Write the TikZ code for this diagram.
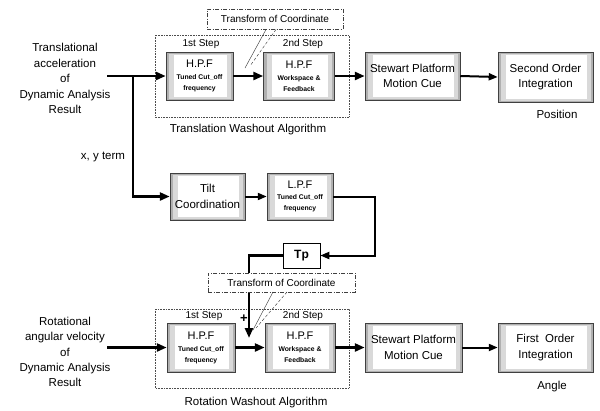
\documentclass[tikz,border=0pt]{standalone}
\usepackage{fontspec}
\setmainfont{Liberation Sans}
\usetikzlibrary{arrows.meta}

\newcommand\lblfont{\fontsize{11.5}{15.5}\selectfont}
\newcommand\stepfont{\fontsize{10}{12}\selectfont}
\newcommand\filtfont{\fontsize{11}{12}\selectfont\mdseries}
\newcommand\tinybold{\fontsize{6.8}{11}\selectfont\bfseries}

\tikzset{
  blockbox/.style={draw=gray!50!black, line width=0.5pt, fill=gray!62,
    align=center, inner sep=0pt, font=\lblfont,
    path picture={
      \fill[gray!30] ([shift={(3pt,-1.5pt)}]path picture bounding box.north west)
        rectangle ([shift={(-2.5pt,1.5pt)}]path picture bounding box.south east);
      \fill[white] ([shift={(8pt,-3pt)}]path picture bounding box.north west)
        rectangle ([shift={(-6.5pt,3pt)}]path picture bounding box.south east);
    }},
  filterbox/.style={blockbox, font=\tinybold},
  plainbox/.style={draw=black, line width=0.6pt, fill=white, inner sep=0pt},
  notebox/.style={draw=gray!50!black, dash pattern=on 4pt off 1.5pt on 1pt off 1.5pt,
    line width=0.5pt, fill=white, inner sep=0pt, font=\fontsize{10}{12}\selectfont},
  groupbox/.style={draw=gray!60!black, densely dotted, line width=0.6pt},
  thickarrow/.style={line width=2.8pt, -{Triangle[length=10pt,width=8pt]}},
  midarrow/.style={line width=2pt, -{Triangle[length=9pt,width=7pt]}},
  calloutline/.style={draw=gray!50!black, line width=0.45pt},
}

\begin{document}
\begin{tikzpicture}[x=1pt,y=-1pt]
\useasboundingbox (0,0) rectangle (600,410);

% ---------- translation channel ----------
\node[align=center, font=\lblfont] (tin) at (65,78.5)
  {Translational\\acceleration\\of\\Dynamic Analysis\\Result};

\draw[groupbox] (155,35) rectangle (349,117);
\node[font=\stepfont] (s1a) at (201,44) {1st Step};
\node[font=\stepfont] (s2a) at (303,44) {2nd Step};
\node[font=\lblfont] (twa) at (248,130) {Translation Washout Algorithm};

\node[filterbox, minimum width=67pt, minimum height=48pt] (hpfA) at (199.5,76)
  {\filtfont H.P.F\\[1pt]Tuned Cut\_off\\frequency};
\node[filterbox, minimum width=71pt, minimum height=48pt] (hpfB) at (299,76)
  {\filtfont H.P.F\\[1pt]Workspace \&\\Feedback};
\node[blockbox, minimum width=95pt, minimum height=48pt] (stwA) at (412.5,76)
  {Stewart Platform\\Motion Cue};
\node[blockbox, minimum width=95pt, minimum height=50pt] (intA) at (545.5,77)
  {Second Order\\Integration};
\node[font=\lblfont] (pos) at (557,114) {Position};

\coordinate (inA) at (107,76);
\coordinate (br) at (133,76);
\draw[thickarrow] (inA) -- (hpfA.west);
\draw[thickarrow] (hpfA.east) -- (hpfB.west);
\draw[thickarrow] (hpfB.east) -- (stwA.west);
\draw[midarrow] (stwA.east) -- (intA.west);

\node[notebox, minimum width=136pt, minimum height=20pt] (trA) at (275,19)
  {Transform of Coordinate};
\coordinate (cA1) at (266,29.5);
\coordinate (cA2) at (276,29.5);
\coordinate (tA1) at (245,68);
\coordinate (tA2) at (250,66);
\draw[calloutline] (cA1) -- (tA1);
\draw[calloutline, densely dashed] (cA2) -- (tA2);

% ---------- tilt coordination branch ----------
\node[font=\lblfont] (xy) at (103,157) {x, y term};
\node[blockbox, minimum width=75pt, minimum height=47pt] (tilt) at (207.5,196.5)
  {Tilt\\Coordination};
\node[filterbox, minimum width=66pt, minimum height=47pt] (lpf) at (300,196.5)
  {\filtfont L.P.F\\[0pt]Tuned Cut\_off\\frequency};
\node[plainbox, minimum width=37pt, minimum height=25pt,
  font=\fontsize{12}{14}\selectfont\bfseries] (tp) at (301.5,255.5) {Tp};

\draw[thickarrow] (br) |- (tilt.west);
\draw[midarrow] (tilt.east) -- (lpf.west);
\coordinate (turn) at (375,255.5);
\draw[line width=2pt, -{Triangle[length=9pt,width=7pt]}] (lpf.east) -| (turn) -- (tp.east);

% ---------- rotation channel ----------
\node[align=center, font=\fontsize{11.5}{15.2}\selectfont] (rin) at (65,352)
  {Rotational\\angular velocity\\of\\Dynamic Analysis\\Result};

\draw[groupbox] (155,309) rectangle (349,388);
\node[font=\stepfont] (s1b) at (204,316) {1st Step};
\node[font=\stepfont] (s2b) at (303,316) {2nd Step};
\node[font=\lblfont] (rwa) at (256,403) {Rotation Washout Algorithm};

\node[filterbox, minimum width=68pt, minimum height=49pt] (hpfC) at (201,347.5)
  {\filtfont H.P.F\\[1pt]Tuned Cut\_off\\frequency};
\node[filterbox, minimum width=70pt, minimum height=49pt] (hpfD) at (300,347.5)
  {\filtfont H.P.F\\[1pt]Workspace \&\\Feedback};
\node[blockbox, minimum width=97pt, minimum height=49pt] (stwB) at (413.5,347.5)
  {Stewart Platform\\Motion Cue};
\node[blockbox, minimum width=95pt, minimum height=49pt] (intB) at (545.5,347.5)
  {First\ \ Order\\Integration};
\node[font=\lblfont] (ang) at (552,387) {Angle};

\coordinate (inB) at (107,347.5);
\draw[thickarrow] (inB) -- (hpfC.west);
\draw[thickarrow] (hpfC.east) -- (hpfD.west);
\draw[thickarrow] (hpfD.east) -- (stwB.west);
\draw[midarrow] (stwB.east) -- (intB.west);

% feedback of the tilt term into the rotation channel
\coordinate (sum) at (249,338);
\draw[line width=2.6pt, -{Triangle[length=10pt,width=8pt]}] (tp.west) -| (sum);
\node[font=\fontsize{13}{13}\selectfont\bfseries] (plus) at (244,319) {+};

\node[notebox, minimum width=147pt, minimum height=19pt] (trB) at (281.5,282.5)
  {Transform of Coordinate};
\coordinate (cB1) at (273,292);
\coordinate (cB2) at (287,292);
\coordinate (tB1) at (253,330);
\coordinate (tB2) at (256,328);
\draw[calloutline] (cB1) -- (tB1);
\draw[calloutline, densely dashed] (cB2) -- (tB2);
\end{tikzpicture}
\end{document}
